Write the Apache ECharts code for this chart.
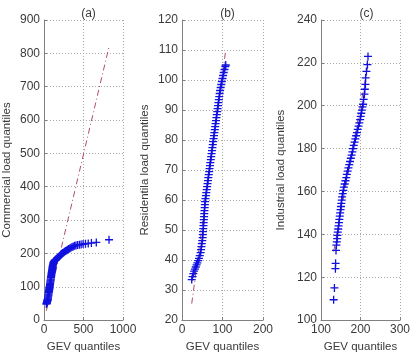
<!DOCTYPE html>
<html>
<head>
<meta charset="utf-8">
<script src="https://cdn.jsdelivr.net/npm/echarts@6/dist/echarts.min.js"></script>
<style>html,body{margin:0;padding:0;background:#fff}#c{width:413px;height:358px}</style>
</head>
<body>
<div id="c"></div>
<script>
// ---- data ----
var panelTitles = ['(a)', '(b)', '(c)'];
var yNames = ['Commercial load quantiles', 'Residentila load quantiles', 'Industrial load quantiles'];
var xName = 'GEV quantiles';

// [min, max, step]
var xTicksA = [0, 1000, 500];
var yTicksA = [0, 900, 100];
var xTicksB = [0, 200, 100];
var yTicksB = [20, 120, 10];
var xTicksC = [100, 300, 100];
var yTicksC = [100, 240, 20];

var commercialPts = [
  [30,48],[33,50],[36,52],[38,54],[40,56],[42,57],[44,59],[46,61],[48,63],[50,66],
  [52,69],[54,72],[56,75],[58,78],[60,82],[62,85],[64,88],[66,91],[68,94],[70,97],
  [72,100],[74,104],[76,107],[78,110],[80,114],[82,117],[84,120],[86,123],[88,127],
  [90,130],[92,133],[94,137],[96,140],[98,143],[100,146],[102,149],[104,152],[106,155],
  [108,158],[110,161],[112,164],[115,167],[118,170],[121,173],[125,175],[130,177],
  [137,179],[145,181],[155,183],[165,185],[175,187],[185,189],[195,191],[205,194],
  [215,197],[225,199],[235,201],[248,203],[260,205],[272,207],[285,209],[298,211],
  [312,213],[326,215],[340,217],[355,219],[370,221],[388,223],[405,224],[425,225],
  [448,226],[470,227],[495,228],[525,229],[560,230],[600,231],[662,233],[823,241]
];
var residentialPts = [
  [24,33.5],[26,34.5],[28,35.5],[30,36.3],[32,37],[34,37.7],[36,38.4],[38,39.1],[40,39.8],
  [42,40.6],[44,41.5],[46,42.5],[47,43.5],[48,44.5],[49,45.5],[50,46.5],[51,47.5],[51.5,48.5],
  [52,49.5],[52.5,50.5],[53,51.5],[53.5,52.5],[54,53.5],[54.5,54.5],[55,55.5],[55.5,56.5],
  [56,57.5],[56.5,58.5],[57,59.5],[58,60.5],[59,61.5],[60,62.5],[61,63.5],[62,64.5],
  [63,65.5],[64,66.5],[65,67.5],[66,68.5],[67,69.5],[68,70.5],[69,71.5],[70,72.5],
  [71,73.5],[72,74.5],[73,75.5],[74,76.5],[75,77.5],[76,78.5],[77,79.5],[78,80.5],
  [79,81.5],[80,82.5],[81,83.5],[82,84.5],[83,85.5],[84,86.5],[85,87.5],[86,88.5],
  [87,89.5],[88,90.5],[89,91.5],[90,92.5],[91,93.5],[92,94.5],[93,95.5],[94,96.5],
  [95.5,97.5],[97,98.5],[98.5,99.5],[100,100.5],[101.5,101.5],[103,102.5],[105,103.5],
  [107,104.5],[108,105]
];
var industrialPts = [
  [132,109.5],[134,115],[136.5,124],[137,126.5],[138,132.5],
  [139,135],[140,136.5],[141,138],[141.5,139.5],[142.5,141],[143.5,142.5],[144.5,144],
  [145.5,145.5],[146.5,147],[147.5,148.5],[148.5,150],[149.5,151.5],[150.5,153],
  [151.5,154.5],[152.5,156],[153.5,157.5],[155,159],[156.5,160.5],[158,162],[160,163.5],
  [162,165],[164,166.5],[165.5,168],[167.5,169.5],[169.5,171],[171.5,172.5],[173.5,174],
  [175.5,175.5],[177.5,177],[179.5,178.5],[181,180],[183,181.5],[185,183],[187,184.5],
  [189,186],[191,187.5],[193,189],[195,190.5],[197,192],[199,193.5],[200.5,195],
  [202,196.5],[203.5,198],[205,199.5],[206.5,200.7],
  [208,203],[210,205.4],[211,207.7],[212.5,210],[213,213],[215,216],[217.5,219.2],[219,223]
];
var commercialLine = [[30,28],[823,820]];
var residentialLine = [[24,25.5],[107.5,109.5]];
var industrialLine = [[132,132],[219,219]];

// ---- chart ----
var font = 'Liberation Sans, Arial, sans-serif';
var txt = '#3a3a3a';
var plus = 'path://M0,5 L10,5 M5,0 L5,10';
var grids = [
  {left: 44, top: 20, width: 79, height: 303},
  {left: 182, top: 20, width: 81, height: 303},
  {left: 321, top: 20, width: 81, height: 303}
];
var xT = [xTicksA, xTicksB, xTicksC];
var yT = [yTicksA, yTicksB, yTicksC];
var yGaps = [31, 31, 34];
var pts = [commercialPts, residentialPts, industrialPts];
var lines = [commercialLine, residentialLine, industrialLine];

function axisBase(t, i) {
  return {
    type: 'value', gridIndex: i, min: t[0], max: t[1], interval: t[2],
    axisLine: {show: true, onZero: false, lineStyle: {color: '#808080', width: 1}},
    axisTick: {show: true, inside: true, length: 3, lineStyle: {color: '#808080'}},
    axisLabel: {color: txt, fontFamily: font, fontSize: 12, margin: 4,
      formatter: function (v) { return String(v); }},
    splitLine: {show: true, lineStyle: {color: '#a8a8a8', type: [1, 2], width: 1}},
    nameTextStyle: {color: txt, fontFamily: font, fontSize: 11.5}
  };
}
var xAxes = [], yAxes = [], series = [], titles = [];
for (var i = 0; i < 3; i++) {
  var xa = axisBase(xT[i], i);
  xa.name = xName; xa.nameLocation = 'middle'; xa.nameGap = 19;
  xAxes.push(xa);
  var ya = axisBase(yT[i], i);
  ya.name = yNames[i]; ya.nameLocation = 'middle'; ya.nameGap = yGaps[i]; ya.nameRotate = 90;
  yAxes.push(ya);
  series.push({
    type: 'line', xAxisIndex: i, yAxisIndex: i, data: lines[i], symbol: 'none',
    lineStyle: {color: '#b04e62', width: 1, type: [6, 3, 1, 3]}, silent: true, z: 1
  });
  series.push({
    type: 'scatter', xAxisIndex: i, yAxisIndex: i, data: pts[i], symbol: plus, symbolSize: 8,
    itemStyle: {color: 'rgba(0,0,0,0)', borderColor: '#1010e0', borderWidth: 1.3, opacity: 1},
    silent: true, z: 2
  });
  titles.push({
    text: panelTitles[i], left: grids[i].left + grids[i].width / 2, top: 3, textAlign: 'center',
    textStyle: {color: txt, fontFamily: font, fontSize: 12, fontWeight: 'normal'}
  });
}
var chart = echarts.init(document.getElementById('c'), null, {renderer: 'canvas'});
chart.setOption({
  animation: false,
  backgroundColor: '#ffffff',
  title: titles,
  grid: grids,
  xAxis: xAxes,
  yAxis: yAxes,
  series: series
});
</script>
</body>
</html>
